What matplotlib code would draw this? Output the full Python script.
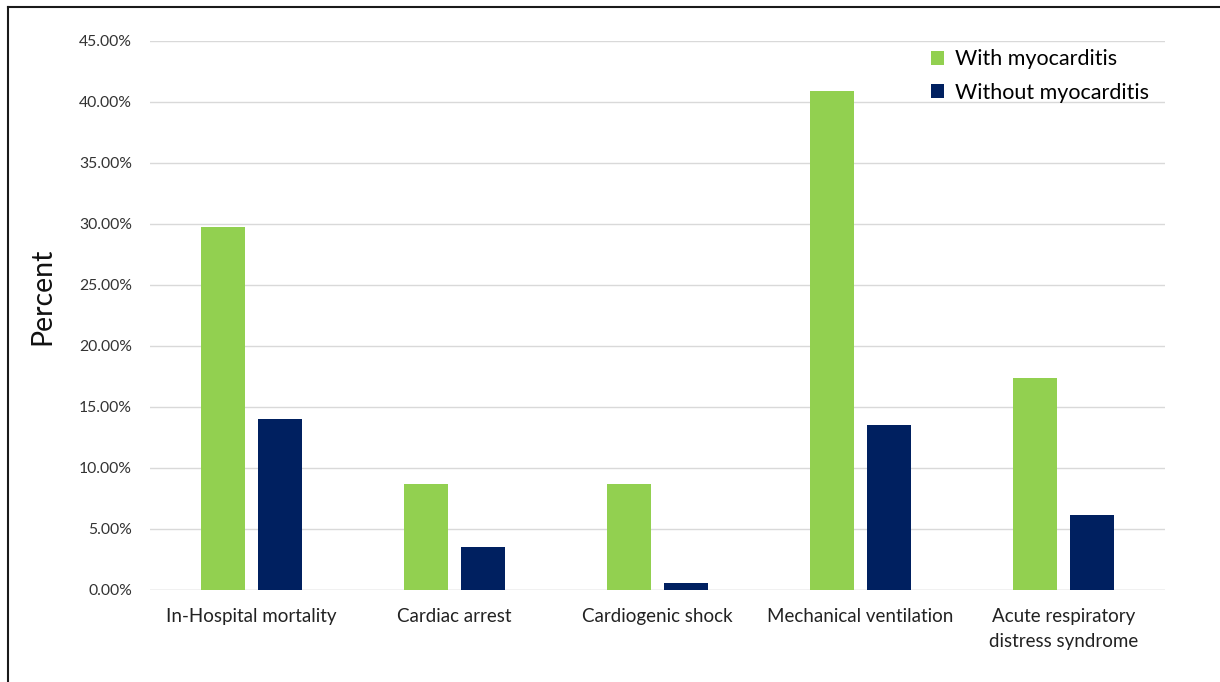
import matplotlib.pyplot as plt
import matplotlib.ticker as mticker
from matplotlib.lines import Line2D
import numpy as np

# ---- Data ----
categories = ['In-Hospital mortality', 'Cardiac arrest', 'Cardiogenic shock',
              'Mechanical ventilation', 'Acute respiratory\ndistress syndrome']
with_myo = [29.75, 8.7, 8.7, 40.9, 17.4]
without_myo = [14.0, 3.5, 0.57, 13.5, 6.15]
series_names = ['With myocarditis', 'Without myocarditis']
colors = ['#92D050', '#002060']

plt.rcParams['font.family'] = ['Lato', 'DejaVu Sans']

fig = plt.figure(figsize=(12.2, 6.82), dpi=100)
ax = fig.add_axes([0.123, 0.135, 0.832, 0.805])

x = np.arange(len(categories))
w = 0.217
off = 0.142
ax.bar(x - off, with_myo, w, color=colors[0], label=series_names[0], zorder=3)
ax.bar(x + off, without_myo, w, color=colors[1], label=series_names[1], zorder=3)

ax.set_xlim(-0.5, len(categories) - 0.5)
ax.set_ylim(0, 45)
ax.set_yticks(np.arange(0, 45.1, 5))
ax.yaxis.set_major_formatter(mticker.FuncFormatter(lambda v, p: f'{v:.2f}%'))
ax.set_xticks(x)
ax.set_xticklabels(categories, fontsize=13.5, color='#222222', linespacing=1.55)
ax.tick_params(axis='y', length=0, pad=13, labelsize=11.3, labelcolor='#333333')
ax.tick_params(axis='x', length=0, pad=13)
ax.grid(axis='y', color='#d9d9d9', linewidth=1, zorder=0)
for s in ax.spines.values():
    s.set_visible(False)
ax.axhline(0, color='#d9d9d9', linewidth=1, zorder=1)

ax.set_ylabel('Percent', fontsize=20.5, color='#111111')
ax.yaxis.set_label_coords(-0.093, 0.535)

ax.legend(loc='upper right', bbox_to_anchor=(1.003, 1.02), frameon=False,
          fontsize=15.5, handlelength=0.6, handleheight=0.6, handletextpad=0.5,
          labelspacing=0.62)

# outer frame (left and top edges)
fig.add_artist(Line2D([0.0062, 0.0062], [0, 0.99], color='#1a1a1a', linewidth=1.5))
fig.add_artist(Line2D([0.0062, 1.0], [0.99, 0.99], color='#1a1a1a', linewidth=1.5))

fig.savefig('out.png', dpi=100)
